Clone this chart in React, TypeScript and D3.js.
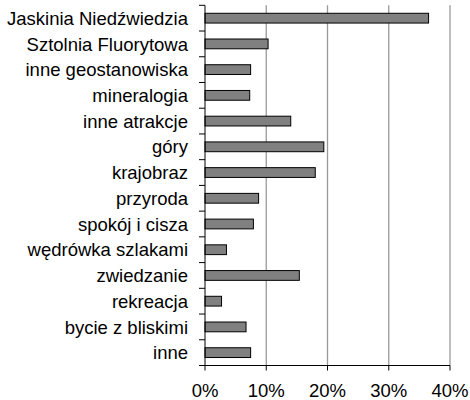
import React from "react";
import * as d3 from "d3";

const categories = [
  "Jaskinia Niedźwiedzia",
  "Sztolnia Fluorytowa",
  "inne geostanowiska",
  "mineralogia",
  "inne atrakcje",
  "góry",
  "krajobraz",
  "przyroda",
  "spokój i cisza",
  "wędrówka szlakami",
  "zwiedzanie",
  "rekreacja",
  "bycie z bliskimi",
  "inne",
];
const values = [36.5, 10.3, 7.45, 7.3, 14.0, 19.4, 18.0, 8.75, 7.9, 3.5, 15.4, 2.7, 6.7, 7.45];
const xTicks = [0, 10, 20, 30, 40];

const W = 470;
const H = 400;
const left = 205;
const right = 450;
const top = 5.3;
const bottom = 365.5;

export default function App() {
  const x = d3.scaleLinear().domain([0, 40]).range([left, right]);
  const y = d3
    .scaleBand<string>()
    .domain(categories)
    .range([top, bottom])
    .paddingInner(0.62)
    .paddingOuter(0.31);
  const step = y.step();
  const bounds = d3.range(categories.length + 1).map((i) => top + i * step);
  const font = "'Liberation Sans', Arial, Helvetica, sans-serif";

  return (
    <svg
      width={W}
      height={H}
      style={{ position: "absolute", left: 0, top: 0, background: "#fff" }}
      fontFamily={font}
    >
      {xTicks.slice(1).map((t) => (
        <line key={"g" + t} x1={x(t)} x2={x(t)} y1={top} y2={bottom} stroke="#999" strokeWidth={1.3} />
      ))}
      {categories.map((c, i) => (
        <rect
          key={c}
          x={x(0)}
          y={y(c)!}
          width={x(values[i]) - x(0)}
          height={y.bandwidth()}
          fill="#808080"
          stroke="#000"
          strokeWidth={1}
        />
      ))}
      <line x1={left} x2={left} y1={top} y2={bottom} stroke="#000" strokeWidth={1} />
      {bounds.map((b, i) => (
        <line key={"yt" + i} x1={left - 6} x2={left} y1={b} y2={b} stroke="#000" strokeWidth={1} />
      ))}
      {categories.map((c) => (
        <text
          key={"l" + c}
          x={188}
          y={y(c)! + y.bandwidth() / 2}
          dy="0.36em"
          textAnchor="end"
          fontSize={18.5}
          fill="#000"
        >
          {c}
        </text>
      ))}
      <line x1={left - 6} x2={right} y1={bottom} y2={bottom} stroke="#000" strokeWidth={1} />
      {xTicks.map((t) => (
        <g key={"xt" + t}>
          <line x1={x(t)} x2={x(t)} y1={bottom} y2={bottom + 5} stroke="#000" strokeWidth={1} />
          <text x={x(t)} y={397} textAnchor="middle" fontSize={18.5} fill="#000">
            {t + "%"}
          </text>
        </g>
      ))}
    </svg>
  );
}
